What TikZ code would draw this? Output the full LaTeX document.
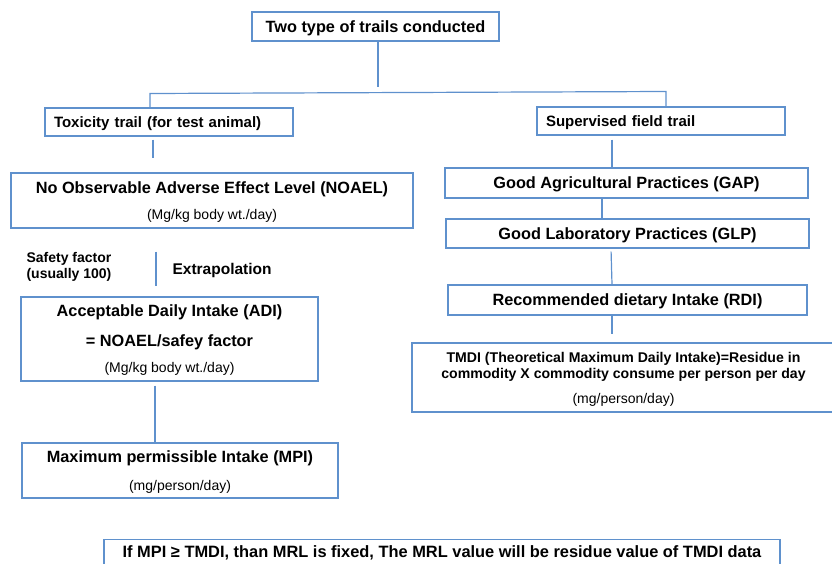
\documentclass[tikz,border=0pt]{standalone}
\usepackage{fontspec}
\setmainfont{Liberation Sans}
\usetikzlibrary{positioning}
\definecolor{boxblue}{RGB}{95,145,205}
\newcommand\boxbold{\fontsize{16.3}{19}\selectfont\bfseries}
\newcommand\midbold{\fontsize{15}{18}\selectfont\bfseries}
\newcommand\smallbold{\fontsize{14.1}{16}\selectfont\bfseries}
\newcommand\unittxt{\fontsize{14}{16}\selectfont\mdseries}
\tikzset{textbox/.style={draw=boxblue,line width=1.2pt,inner sep=0pt,align=center,text depth=0pt,font=\boxbold}}
\tikzset{link/.style={draw=boxblue,line width=1.2pt}}
\tikzset{sidetext/.style={inner sep=0pt,font=\fontsize{15.5}{18}\selectfont\bfseries}}

\begin{document}
\begin{tikzpicture}[x=1pt,y=-1pt]
    \useasboundingbox (0,0) rectangle (832,564);
    % top of the tree
    \node[textbox][minimum width=247pt,minimum height=29pt] (top) at (375.5,26.5) {Two type of trails conducted};
    \node[textbox][minimum width=248pt,minimum height=28pt,text width=230pt,align=left,font=\midbold] (tox) at (169,122) {Toxicity trail (for test animal)};
    \node[textbox][minimum width=248pt,minimum height=28pt,text width=230pt,align=left,font=\midbold] (sup) at (661,121) {Supervised field trail};
    % left branch
    \node[textbox][minimum width=402pt,minimum height=55pt] (noael) at (212,200.5)
        {No Observable Adverse Effect Level (NOAEL)\\[7pt]{\unittxt (Mg/kg body wt./day)}};
    \node[textbox][minimum width=297pt,minimum height=84pt] (adi) at (169.5,339)
        {Acceptable Daily Intake (ADI)\\[11pt]= NOAEL/safey factor\\[7pt]{\unittxt (Mg/kg body wt./day)}};
    \node[textbox][minimum width=316pt,minimum height=55pt] (mpi) at (180,470.5)
        {Maximum permissible Intake (MPI)\\[9pt]{\unittxt (mg/person/day)}};
    % right branch
    \node[textbox][minimum width=363pt,minimum height=30pt] (gap) at (626.5,183) {Good Agricultural Practices (GAP)};
    \node[textbox][minimum width=363pt,minimum height=29pt] (glp) at (627.5,233.5) {Good Laboratory Practices (GLP)};
    \node[textbox][minimum width=359pt,minimum height=30pt] (rdi) at (627.5,300) {Recommended dietary Intake (RDI)};
    \node[textbox][minimum width=423pt,minimum height=69pt,font=\smallbold] (tmdi) at (623.5,377.5)
        {TMDI (Theoretical Maximum Daily Intake)=Residue in\\commodity X commodity consume per person per day\\[9pt]{\unittxt (mg/person/day)}};
    % conclusion
    \node[textbox][anchor=north,minimum width=676pt,inner ysep=6pt,text depth=14pt,font=\fontsize{16.4}{18}\selectfont\bfseries] (mrl) at (442,539)
        {If MPI ≥ TMDI, than MRL is fixed, The MRL value will be residue value of TMDI data};

    \coordinate (barL) at (150,93.5);
    \coordinate (barR) at (666,91.5);
    \coordinate (barM) at (378,87);
    \draw[link] ([xshift=2.5pt]top.south) -- (barM);
    \draw[link] (tox.north -| barL) -- (barL) -- (barR) -- (sup.north -| barR);

    \draw[link][shorten <=3pt,shorten >=14pt] ([xshift=-16pt]tox.south) -- ([xshift=-59pt]noael.north);
    \draw[link][shorten <=23pt,shorten >=10pt] ([xshift=-56pt]noael.south) -- ([xshift=-13.5pt]adi.north)
        node[sidetext][pos=.62,right=16pt] (extra) {Extrapolation}
        node[sidetext][pos=.56,left=44pt,align=left,font=\fontsize{14}{16}\selectfont\bfseries] (safety) {Safety factor\\(usually 100)};
    \draw[link][shorten <=4pt] ([xshift=-14.5pt]adi.south) -- ([xshift=-25pt]mpi.north);

    \draw[link][shorten <=4pt] ([xshift=-49pt]sup.south) -- ([xshift=-14.5pt]gap.north);
    \draw[link] ([xshift=-24.5pt]gap.south) -- ([xshift=-25.5pt]glp.north);
    \draw[link][shorten <=3pt] ([xshift=-16.5pt]glp.south) -- ([xshift=-15.5pt]rdi.north);
    \draw[link][shorten >=8pt] ([xshift=-15.5pt]rdi.south) -- ([xshift=-11.5pt]tmdi.north);
\end{tikzpicture}
\end{document}
